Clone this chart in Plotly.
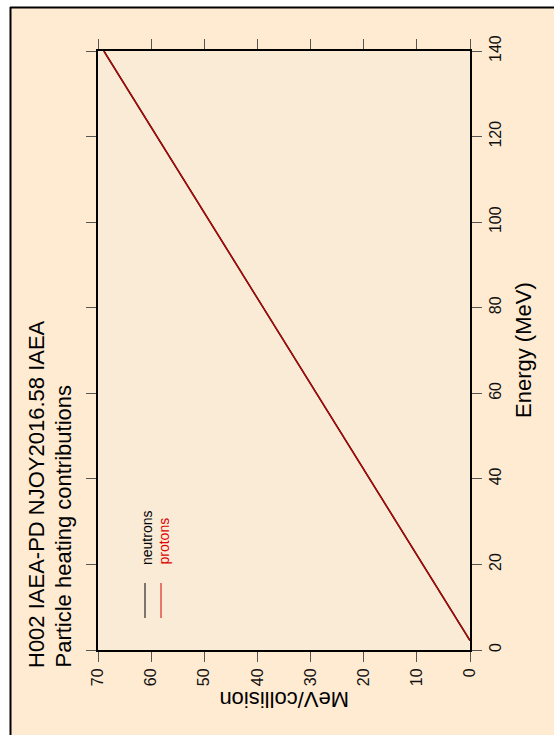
import plotly.graph_objects as go

# Particle heating for H-2 (NJOY2016.58), page drawn in landscape and turned a quarter turn
energy_mev = [2.22, 20, 40, 60, 80, 100, 120, 140]
neutron_heating = [0.0, 8.9, 18.9, 28.9, 38.9, 48.9, 58.9, 68.9]
proton_heating = [0.0, 8.9, 18.9, 28.9, 38.9, 48.9, 58.9, 68.9]

energy_ticks = [0, 20, 40, 60, 80, 100, 120, 140]
heating_ticks = [0, 10, 20, 30, 40, 50, 60, 70]

series_names = ["neutrons", "protons"]
series_colors = ["#000000", "#dd0000"]
title_lines = ["H002 IAEA-PD NJOY2016.58 IAEA", "Particle heating contributions"]
energy_title = "Energy (MeV)"
heating_title = "MeV/collision"

W, H = 554, 735
L, R, T, B = 98, 84, 51, 85
PW, PH = W - L - R, H - T - B
PAGE = "#ffebd2"
PLOT_BG = "#faebd7"
FONT = "Liberation Sans, Arial, sans-serif"


def px(x):
    return (x - L) / PW


def py(y):
    return (H - B - y) / PH


fig = go.Figure()
fig.add_trace(go.Scatter(x=neutron_heating, y=energy_mev, mode="lines",
                         line=dict(color=series_colors[0], width=1.6),
                         name=series_names[0], showlegend=False))
fig.add_trace(go.Scatter(x=proton_heating, y=energy_mev, mode="lines",
                         line=dict(color=series_colors[1], width=1.1),
                         name=series_names[1], showlegend=False))

axis_common = dict(showline=True, linecolor="black", linewidth=2, mirror="ticks",
                   ticks="outside", ticklen=10, tickwidth=1, tickcolor="#555555",
                   showgrid=False, zeroline=False, tickangle=-90,
                   tickfont=dict(family=FONT, size=16, color="#111111"))

fig.update_xaxes(range=[70, 0], tickvals=heating_ticks,
                 ticktext=[str(v) for v in heating_ticks], **axis_common)
fig.update_yaxes(range=[0, 140], side="right", tickvals=energy_ticks,
                 ticktext=[str(v) for v in energy_ticks], **axis_common)

annotations = [
    dict(text=title_lines[0], x=px(36), y=py(670), xanchor="center", yanchor="bottom",
         textangle=-90, font=dict(family=FONT, size=22, color="black")),
    dict(text=title_lines[1], x=px(63), y=py(670), xanchor="center", yanchor="bottom",
         textangle=-90, font=dict(family=FONT, size=22, color="black")),
    dict(text=energy_title, x=px(523), y=py(350), xanchor="center", yanchor="middle",
         textangle=-90, font=dict(family=FONT, size=22, color="black")),
    dict(text=heating_title, x=px(284), y=py(700), xanchor="center", yanchor="middle",
         textangle=180, font=dict(family=FONT, size=22, color="black")),
]
legend_x = [146, 162]
for name, color, lx in zip(series_names, series_colors, legend_x):
    annotations.append(dict(text=name, x=px(lx + 1), y=py(567), xanchor="center",
                            yanchor="bottom", textangle=-90,
                            font=dict(family=FONT, size=14, color=color)))
for a in annotations:
    a.update(xref="paper", yref="paper", showarrow=False)

shapes = [
    # white margin outside the page frame
    dict(type="rect", x0=px(-5), x1=px(10), y0=py(-5), y1=py(H + 5),
         fillcolor="white", line=dict(width=0)),
    dict(type="rect", x0=px(-5), x1=px(W + 5), y0=py(-5), y1=py(7),
         fillcolor="white", line=dict(width=0)),
    # page frame
    dict(type="line", x0=px(10.5), x1=px(10.5), y0=py(7), y1=py(H + 5),
         line=dict(color="black", width=2)),
    dict(type="line", x0=px(10), x1=px(W + 5), y0=py(7.5), y1=py(7.5),
         line=dict(color="black", width=2)),
]
for color, lx in zip(series_colors, [145, 161]):
    shapes.append(dict(type="line", x0=px(lx), x1=px(lx), y0=py(583), y1=py(618),
                       line=dict(color=color, width=1)))
for s in shapes:
    s.update(xref="paper", yref="paper", layer="above")

fig.update_layout(width=W, height=H, margin=dict(l=L, r=R, t=T, b=B),
                  paper_bgcolor=PAGE, plot_bgcolor=PLOT_BG,
                  annotations=annotations, shapes=shapes, showlegend=False)

fig.write_html("out.html")
